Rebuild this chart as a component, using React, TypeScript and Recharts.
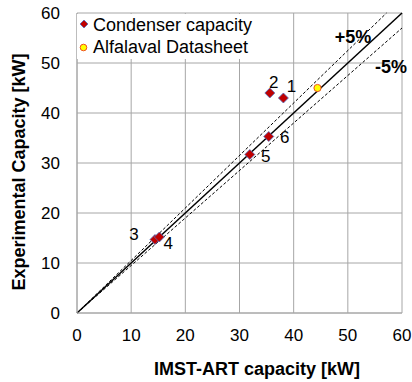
import React from 'react';
import {
  ScatterChart,
  Scatter,
  XAxis,
  YAxis,
  CartesianGrid,
  ReferenceLine,
  Legend,
} from 'recharts';

// measured capacities, one entry per test point
const POINT_LABELS = ['1', '2', '3', '4', '5', '6'];
const IMST_ART = [38.1, 35.6, 14.4, 15.2, 31.9, 35.4];
const EXPERIMENTAL = [43.0, 44.0, 14.7, 15.2, 31.7, 35.3];

// Alfalaval datasheet point
const DATASHEET_X = [44.4];
const DATASHEET_Y = [45.0];

const AXIS_TICKS = [0, 10, 20, 30, 40, 50, 60];
const AXIS_MAX = 60;
const TOLERANCE = 0.05;

const FONT = '"Liberation Sans", Arial, sans-serif';
const GRID = '#a6a6a6';

// where each number sits relative to its diamond
const LABEL_OFFSET: Record<string, [number, number]> = {
  '1': [8, -6],
  '2': [4, -5],
  '3': [-21, 0],
  '4': [9, 12],
  '5': [16, 7],
  '6': [16, 6],
};

const condenserData = POINT_LABELS.map((label, i) => ({
  label,
  x: IMST_ART[i],
  y: EXPERIMENTAL[i],
}));

const datasheetData = DATASHEET_X.map((x, i) => ({ x, y: DATASHEET_Y[i] }));

function Diamond({ cx, cy, payload }: any) {
  const r = 5;
  const [dx, dy] = LABEL_OFFSET[payload.label] || [8, 0];
  return (
    <g>
      <polygon
        points={`${cx},${cy - r} ${cx + r},${cy} ${cx},${cy + r} ${cx - r},${cy}`}
        fill="#c00000"
        stroke="#4f6fbf"
        strokeWidth={0.8}
      />
      <text
        x={cx + dx}
        y={cy + dy}
        textAnchor="middle"
        fontFamily={FONT}
        fontSize={17}
        fill="#000"
      >
        {payload.label}
      </text>
    </g>
  );
}

function Dot({ cx, cy }: any) {
  return <circle cx={cx} cy={cy} r={3.6} fill="#ffff00" stroke="#f0501e" strokeWidth={1} />;
}

function LegendBox() {
  return (
    <svg width={181} height={45} style={{ display: 'block', background: '#fff' }}>
      <polygon points="7,6 11,10 7,14 3,10" fill="#c00000" stroke="#4f6fbf" strokeWidth={0.8} />
      <text x={16} y={17} fontFamily={FONT} fontSize={18} fill="#000">
        Condenser capacity
      </text>
      <circle cx={6.5} cy={33.5} r={3.3} fill="#ffff00" stroke="#f0501e" strokeWidth={1} />
      <text x={16} y={39} fontFamily={FONT} fontSize={18} fill="#000">
        Alfalaval Datasheet
      </text>
    </svg>
  );
}

export default function App() {
  const tick = { fontSize: 17, fill: '#000', fontFamily: FONT };

  return (
    <div style={{ position: 'absolute', left: 0, top: 0 }}>
      <ScatterChart
        width={412}
        height={382}
        margin={{ top: 13, right: 10, left: 0, bottom: 0 }}
        style={{ fontFamily: FONT }}
      >
        <CartesianGrid stroke={GRID} strokeWidth={1} />
        <XAxis
          type="number"
          dataKey="x"
          domain={[0, AXIS_MAX]}
          ticks={AXIS_TICKS}
          height={69}
          tick={tick}
          tickLine={false}
          tickSize={8}
          tickMargin={8}
          axisLine={{ stroke: GRID }}
          label={{
            content: () => (
              <text
                x={257}
                y={375}
                textAnchor="middle"
                fontFamily={FONT}
                fontSize={18}
                fontWeight="bold"
                fill="#000"
              >
                IMST-ART capacity [kW]
              </text>
            ),
          }}
        />
        <YAxis
          type="number"
          dataKey="y"
          domain={[0, AXIS_MAX]}
          ticks={AXIS_TICKS}
          width={77}
          tick={tick}
          tickLine={false}
          tickSize={8}
          tickMargin={9}
          axisLine={{ stroke: GRID }}
          label={{
            content: () => (
              <text
                x={25}
                y={172}
                transform="rotate(-90, 25, 172)"
                textAnchor="middle"
                fontFamily={FONT}
                fontSize={18}
                fontWeight="bold"
                fill="#000"
              >
                Experimental Capacity [kW]
              </text>
            ),
          }}
        />
        <ReferenceLine
          segment={[
            { x: 0, y: 0 },
            { x: AXIS_MAX / (1 + TOLERANCE), y: AXIS_MAX },
          ]}
          stroke="#000"
          strokeWidth={1}
          strokeDasharray="3 2"
        />
        <ReferenceLine
          segment={[
            { x: 0, y: 0 },
            { x: AXIS_MAX, y: AXIS_MAX * (1 - TOLERANCE) },
          ]}
          stroke="#000"
          strokeWidth={1}
          strokeDasharray="3 2"
        />
        <ReferenceLine
          segment={[
            { x: 0, y: 0 },
            { x: AXIS_MAX, y: AXIS_MAX },
          ]}
          stroke="#000"
          strokeWidth={1.5}
        />
        <Scatter
          name="Condenser capacity"
          data={condenserData}
          shape={<Diamond />}
          isAnimationActive={false}
        />
        <Scatter
          name="Alfalaval Datasheet"
          data={datasheetData}
          shape={<Dot />}
          isAnimationActive={false}
        />
        <Legend
          layout="horizontal"
          align="center"
          verticalAlign="middle"
          content={() => <LegendBox />}
          wrapperStyle={{ left: 77, top: 14, width: 181, height: 45 }}
        />
      </ScatterChart>
      <svg
        width={412}
        height={382}
        style={{ position: 'absolute', left: 0, top: 0, pointerEvents: 'none' }}
      >
        <text x={353} y={43} textAnchor="middle" fontFamily={FONT} fontSize={18} fontWeight="bold">
          +5%
        </text>
        <text x={407} y={73} textAnchor="end" fontFamily={FONT} fontSize={18} fontWeight="bold">
          -5%
        </text>
      </svg>
    </div>
  );
}
